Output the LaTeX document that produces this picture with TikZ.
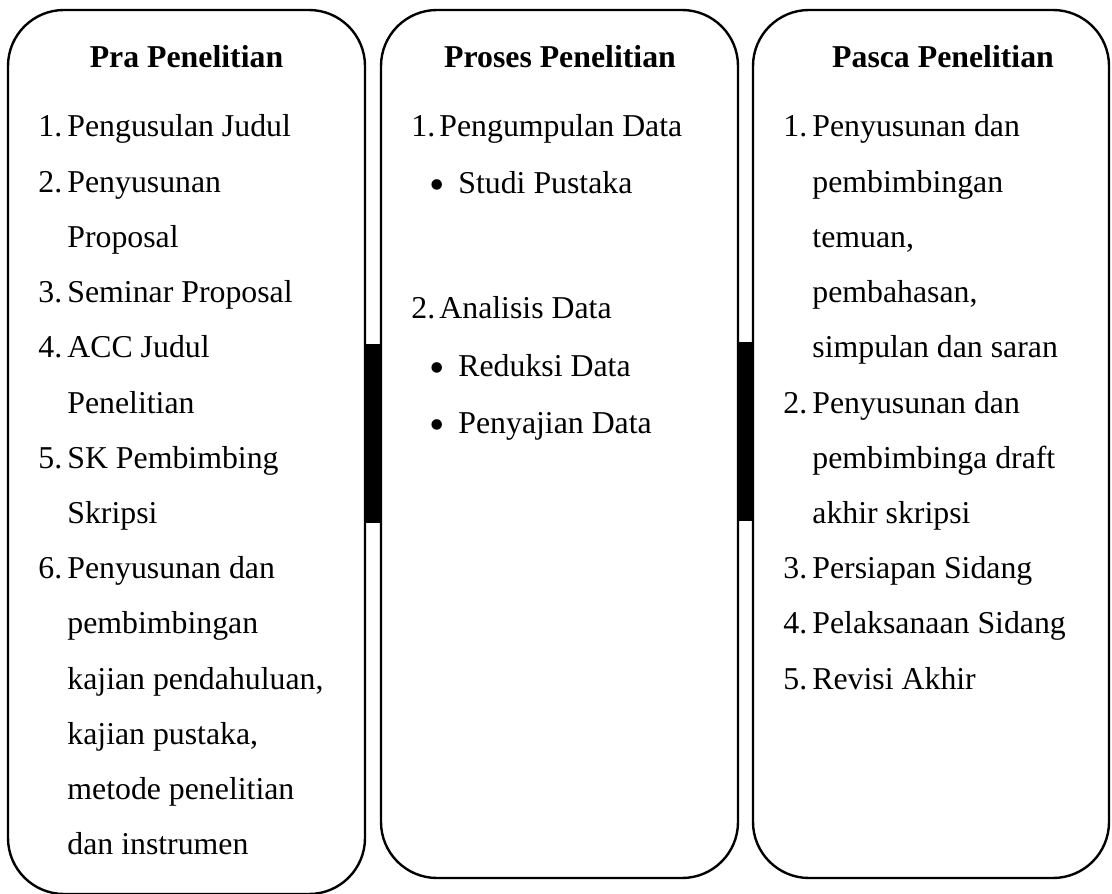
\documentclass[tikz,border=0pt]{standalone}
\usepackage{fontspec}
\setmainfont{Liberation Serif}
\usetikzlibrary{calc}
\begin{document}
\begin{tikzpicture}[x=0.5pt,y=-0.5pt,
  panel/.style={draw, line width=1.2pt, rounded corners=28pt, rectangle, inner sep=0pt},
  bar/.style={draw, fill=black, line width=0.8pt},
  ttl/.style={anchor=base, inner sep=0pt, font=\fontsize{15.9}{18}\selectfont\bfseries},
  txt/.style={anchor=base west, inner sep=0pt, font=\fontsize{15.9}{18}\selectfont},
  dot/.style={anchor=base west, inner sep=0pt, font=\fontsize{22}{24}\selectfont}]
\useasboundingbox (0,0) rectangle (1112,893);
% panels
\node[panel, minimum width=178.5pt, minimum height=442pt] (b1) at (186.5,452) {};
\node[panel, minimum width=178.5pt, minimum height=434pt] (b2) at (559.5,444) {};
\node[panel, minimum width=178pt, minimum height=434pt] (b3) at (931,444) {};
% connecting bars
\coordinate (c1t) at (373,345);
\coordinate (c1b) at (373,522);
\coordinate (c2t) at (746,343);
\coordinate (c2b) at (746,520);
\draw[bar] (b1.east |- c1t) rectangle (b2.west |- c1b);
\draw[bar] (b2.east |- c2t) rectangle (b3.west |- c2b);
% titles
\node[ttl] (t1) at (186.5,68) {Pra Penelitian};
\node[ttl] (t2) at (560,68) {Proses Penelitian};
\node[ttl] (t3) at (943,68) {Pasca Penelitian};
% left column
\def\ls{55.2}
\node[txt] (n11) at (38,137) {1.};
\node[txt] (a1) at (67,137) {Pengusulan Judul};
\node[txt] (n12) at (38,137+\ls) {2.};
\node[txt] (a2) at (67,137+\ls) {Penyusunan};
\node[txt] (a3) at (67,137+2*\ls) {Proposal};
\node[txt] (n13) at (38,137+3*\ls) {3.};
\node[txt] (a4) at (67,137+3*\ls) {Seminar Proposal};
\node[txt] (n14) at (38,137+4*\ls) {4.};
\node[txt] (a5) at (67,137+4*\ls) {ACC Judul};
\node[txt] (a6) at (67,137+5*\ls) {Penelitian};
\node[txt] (n15) at (38,137+6*\ls) {5.};
\node[txt] (a7) at (67,137+6*\ls) {SK Pembimbing};
\node[txt] (a8) at (67,137+7*\ls) {Skripsi};
\node[txt] (n16) at (38,137+8*\ls) {6.};
\node[txt] (a9) at (67,137+8*\ls) {Penyusunan dan};
\node[txt] (a10) at (67,137+9*\ls) {pembimbingan};
\node[txt] (a11) at (67,137+10*\ls) {kajian pendahuluan,};
\node[txt] (a12) at (67,137+11*\ls) {kajian pustaka,};
\node[txt] (a13) at (67,137+12*\ls) {metode penelitian};
\node[txt] (a14) at (67,137+13*\ls) {dan instrumen};
% middle column
\node[txt] (n21) at (411,137) {1.};
\node[txt] (m1) at (439,137) {Pengumpulan Data};
\node[dot] (d1) at (429,199.5) {•};
\node[txt] (m2) at (458,193) {Studi Pustaka};
\node[txt] (n22) at (411,318) {2.};
\node[txt] (m3) at (439,318) {Analisis Data};
\node[dot] (d2) at (429,382.5) {•};
\node[txt] (m4) at (458,376) {Reduksi Data};
\node[dot] (d3) at (429,439.5) {•};
\node[txt] (m5) at (458,433) {Penyajian Data};
% right column
\node[txt] (n31) at (783,137) {1.};
\node[txt] (r1) at (812,137) {Penyusunan dan};
\node[txt] (r2) at (812,137+\ls) {pembimbingan};
\node[txt] (r3) at (812,137+2*\ls) {temuan,};
\node[txt] (r4) at (812,137+3*\ls) {pembahasan,};
\node[txt] (r5) at (812,137+4*\ls) {simpulan dan saran};
\node[txt] (n32) at (783,137+5*\ls) {2.};
\node[txt] (r6) at (812,137+5*\ls) {Penyusunan dan};
\node[txt] (r7) at (812,137+6*\ls) {pembimbinga draft};
\node[txt] (r8) at (812,137+7*\ls) {akhir skripsi};
\node[txt] (n33) at (783,137+8*\ls) {3.};
\node[txt] (r9) at (812,137+8*\ls) {Persiapan Sidang};
\node[txt] (n34) at (783,137+9*\ls) {4.};
\node[txt] (r10) at (812,137+9*\ls) {Pelaksanaan Sidang};
\node[txt] (n35) at (783,137+10*\ls) {5.};
\node[txt] (r11) at (812,137+10*\ls) {Revisi Akhir};
\end{tikzpicture}
\end{document}
